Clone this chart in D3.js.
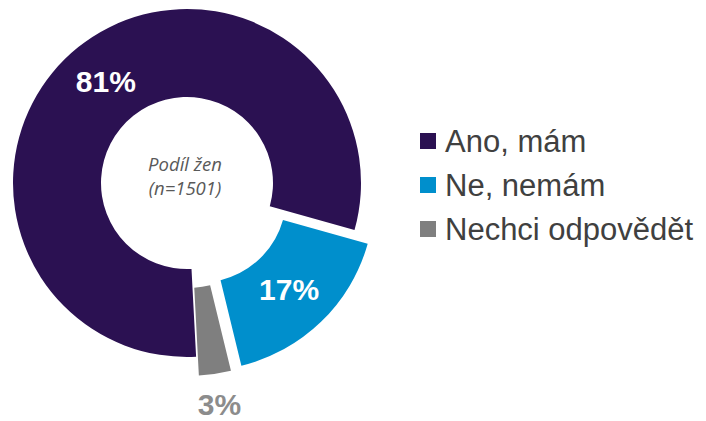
<!DOCTYPE html>
<html>
<head>
<meta charset="utf-8">
<script src="https://cdn.jsdelivr.net/npm/d3@7"></script>
<style>
  html, body { margin: 0; padding: 0; background: #ffffff; }
  svg { display: block; }
</style>
</head>
<body>
<svg id="chart" width="706" height="421"></svg>
<script>
// Survey answers (share of women, n=1501)
const categories = ["Ano, mám", "Ne, nemám", "Nechci odpovědět"];
const values = [81, 17, 3];
const valueLabels = ["81%", "17%", "3%"];
const colors = ["#2b1152", "#008fcc", "#7f7f7f"];
const exploded = [false, true, true];
const centerLines = ["Podíl žen", "(n=1501)"];

const svg = d3.select("#chart");
const cx = 187, cy = 183;
const innerR = 86, outerR = 174;
const explode = 19;

const pie = d3.pie()
  .sort(null)
  .value(d => d)
  .startAngle(177 * Math.PI / 180)
  .endAngle(177 * Math.PI / 180 + 2 * Math.PI);

const arc = d3.arc().innerRadius(innerR).outerRadius(outerR);
const arcs = pie(values);

const g = svg.append("g").attr("transform", `translate(${cx},${cy})`);

function offset(d, i) {
  if (!exploded[i]) return [0, 0];
  const a = (d.startAngle + d.endAngle) / 2;
  return [Math.sin(a) * explode, -Math.cos(a) * explode];
}

g.selectAll("path.slice")
  .data(arcs)
  .join("path")
  .attr("class", "slice")
  .attr("d", arc)
  .attr("fill", (d, i) => colors[i])
  .attr("transform", (d, i) => { const o = offset(d, i); return `translate(${o[0]},${o[1]})`; });

// Value labels: placed along each slice's mid angle
const labelRadius = [130, 147, 224];
const labelFill = ["#ffffff", "#ffffff", "#8c8c8c"];
function labelXY(d, i) {
  const a = (d.startAngle + d.endAngle) / 2;
  return [Math.sin(a) * labelRadius[i], -Math.cos(a) * labelRadius[i]];
}

g.selectAll("text.val")
  .data(arcs)
  .join("text")
  .attr("class", "val")
  .attr("x", (d, i) => labelXY(d, i)[0])
  .attr("y", (d, i) => labelXY(d, i)[1])
  .attr("dy", "0.36em")
  .attr("text-anchor", "middle")
  .attr("font-family", "'Liberation Sans', Arial, sans-serif")
  .attr("font-weight", "bold")
  .attr("font-size", 30)
  .attr("fill", (d, i) => labelFill[i])
  .text((d, i) => valueLabels[i]);

// Centre caption
g.selectAll("text.center")
  .data(centerLines)
  .join("text")
  .attr("class", "center")
  .attr("x", -2)
  .attr("y", (d, i) => -12 + i * 24)
  .attr("text-anchor", "middle")
  .attr("font-family", "'Open Sans', sans-serif")
  .attr("font-style", "italic")
  .attr("font-size", 18.5)
  .attr("fill", "#595959")
  .text(d => d);

// Legend
const legendY = d3.scalePoint().domain(categories).range([141, 229]);
const legend = svg.append("g").attr("transform", "translate(420,0)");
const items = legend.selectAll("g.item")
  .data(categories)
  .join("g")
  .attr("class", "item")
  .attr("transform", d => `translate(0,${legendY(d)})`);
items.append("rect")
  .attr("x", 0).attr("y", -8)
  .attr("width", 16).attr("height", 16)
  .attr("fill", (d, i) => colors[i]);
items.append("text")
  .attr("x", 25).attr("y", 0)
  .attr("dy", "0.35em")
  .attr("font-family", "'Liberation Sans', Arial, sans-serif")
  .attr("font-size", 31)
  .attr("fill", "#404040")
  .text(d => d);
</script>
</body>
</html>
